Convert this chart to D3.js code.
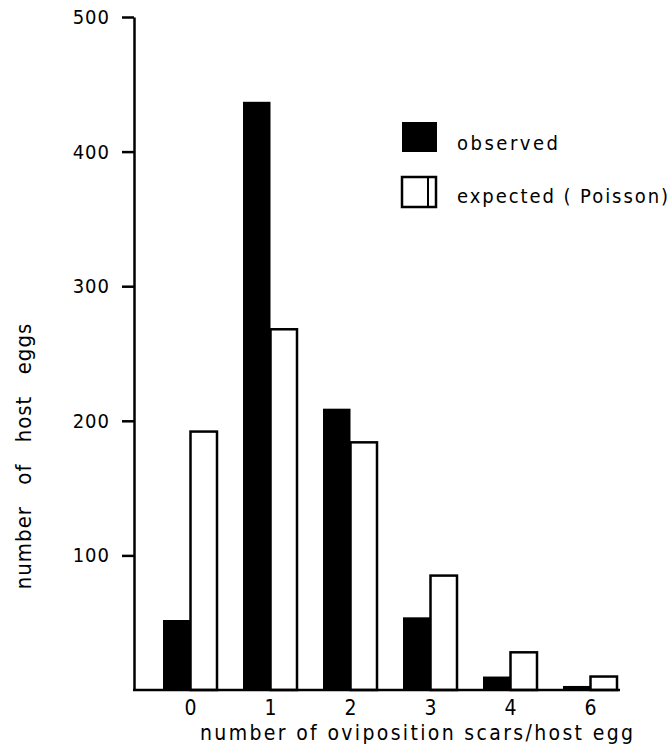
<!DOCTYPE html>
<html>
<head>
<meta charset="utf-8">
<title>number of host eggs</title>
<style>
  body { margin: 0; background: #fff; }
  text { font-family: "DejaVu Sans Condensed", "DejaVu Sans", sans-serif; fill: #000; }
</style>
<script src="https://d3js.org/d3.v7.min.js"></script>
</head>
<body>
<script>
// scars per host egg
var scars = ["0", "1", "2", "3", "4", "6"];
var observed = [52, 437, 209, 54, 10, 3];
var expected = [192, 268, 184, 85, 28, 10];
var yTicks = [100, 200, 300, 400, 500];
var seriesNames = ["observed", "expected ( Poisson)"];

var w = 671, h = 749;

var svg = d3.select("body").append("svg")
  .attr("width", w)
  .attr("height", h);

// y scale: 0 at the baseline, 500 at the top tick
var y = d3.scaleLinear().domain([0, 500]).range([690, 17]);

// groups of two bars, 80px apart
var x = d3.scaleBand()
  .domain(scars)
  .range([138, 643])
  .paddingInner(0.3125)
  .paddingOuter(0.3125);

var sub = d3.scaleBand()
  .domain(["obs", "exp"])
  .range([0, x.bandwidth()]);

// bars
var g = svg.append("g");
g.selectAll("rect.obs")
  .data(scars)
  .enter().append("rect")
  .attr("class", "obs")
  .attr("x", function(d) { return x(d) + sub("obs"); })
  .attr("y", function(d, i) { return y(observed[i]); })
  .attr("width", sub.bandwidth())
  .attr("height", function(d, i) { return y(0) - y(observed[i]); })
  .attr("fill", "#000");

g.selectAll("rect.exp")
  .data(scars)
  .enter().append("rect")
  .attr("class", "exp")
  .attr("x", function(d) { return x(d) + sub("exp"); })
  .attr("y", function(d, i) { return y(expected[i]); })
  .attr("width", sub.bandwidth() - 1)
  .attr("height", function(d, i) { return y(0) - y(expected[i]); })
  .attr("fill", "#fff")
  .attr("stroke", "#000")
  .attr("stroke-width", 2.5);

// y axis
var yAxis = svg.append("g")
  .attr("transform", "translate(134,0)")
  .call(d3.axisLeft(y).tickValues(yTicks).tickSize(12).tickSizeOuter(0).tickPadding(12));
yAxis.select(".domain").attr("stroke-width", 2.5);
yAxis.selectAll(".tick line").attr("stroke-width", 2.5);
yAxis.selectAll("text")
  .style("font-size", "20px")
  .attr("font-family", null)
  .attr("letter-spacing", "1px");

// x axis baseline
svg.append("line")
  .attr("x1", 133).attr("x2", 620)
  .attr("y1", y(0)).attr("y2", y(0))
  .attr("stroke", "#000")
  .attr("stroke-width", 2.5);

// x tick labels
var xAxis = svg.append("g")
  .attr("transform", "translate(0," + y(0) + ")")
  .call(d3.axisBottom(x).tickSize(0).tickPadding(10));
xAxis.select(".domain").remove();
xAxis.selectAll("text")
  .style("font-size", "21px")
  .attr("font-family", null);

// axis titles
svg.append("text")
  .attr("x", 200)
  .attr("y", 740)
  .attr("textLength", 433)
  .attr("lengthAdjust", "spacing")
  .style("font-size", "21px")
  .text("number of oviposition scars/host egg");

svg.append("text")
  .attr("transform", "translate(31,456) rotate(-90)")
  .style("text-anchor", "middle")
  .style("font-size", "22px")
  .style("word-spacing", "14px")
  .attr("letter-spacing", "1px")
  .text("number of host eggs");

// legend
var legend = svg.append("g").attr("transform", "translate(402,122)");
legend.append("rect")
  .attr("width", 35).attr("height", 30)
  .attr("fill", "#000");
legend.append("rect")
  .attr("y", 55)
  .attr("width", 34).attr("height", 30)
  .attr("fill", "#fff")
  .attr("stroke", "#000")
  .attr("stroke-width", 2.5);
legend.append("line")
  .attr("x1", 26).attr("x2", 26)
  .attr("y1", 55).attr("y2", 85)
  .attr("stroke", "#000")
  .attr("stroke-width", 2);
legend.selectAll("text.lab")
  .data(seriesNames)
  .enter().append("text")
  .attr("class", "lab")
  .attr("x", 55)
  .attr("y", function(d, i) { return 28 + i * 53; })
  .attr("textLength", function(d, i) { return i === 0 ? 101 : 211; })
  .attr("lengthAdjust", "spacing")
  .style("font-size", "20px")
  .text(function(d) { return d; });
</script>
</body>
</html>
